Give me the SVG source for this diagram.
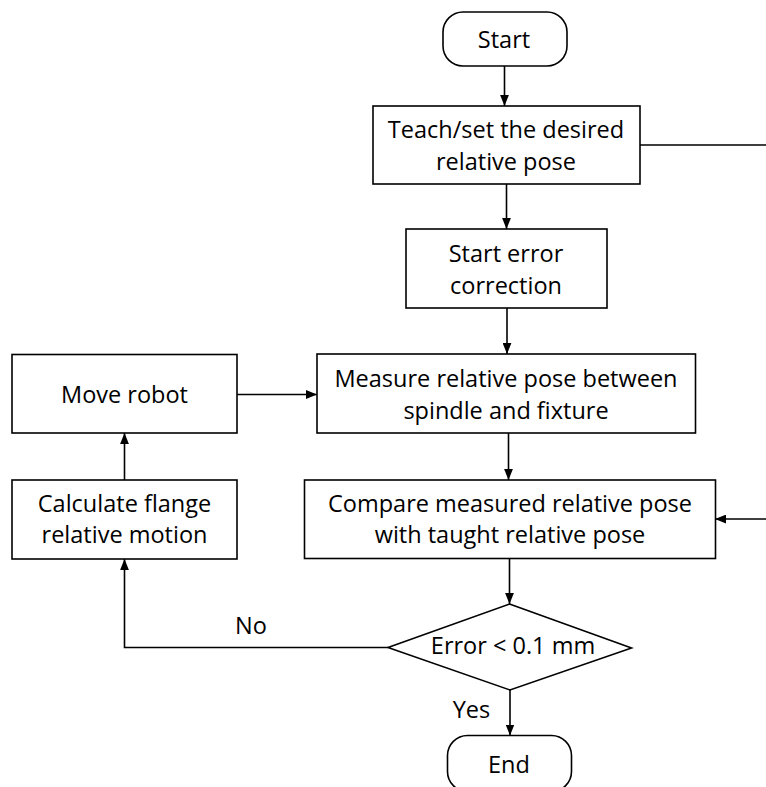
<svg xmlns="http://www.w3.org/2000/svg" width="766" height="787" viewBox="0 0 766 787">
  <defs>
    <marker id="arrow" viewBox="0 0 10 8" refX="10" refY="4" markerWidth="11" markerHeight="9" markerUnits="userSpaceOnUse" orient="auto">
      <path d="M0,0 L10,4 L0,8 Z" fill="#000"/>
    </marker>
    <style>
      .box { fill: #fff; stroke: #000; stroke-width: 1.6; }
      .edge { fill: none; stroke: #000; stroke-width: 1.6; marker-end: url(#arrow); }
      text { font-family: "Open Sans", "Liberation Sans", sans-serif; font-size: 23.5px; fill: #000; text-anchor: middle; }
    </style>
  </defs>
  <rect width="766" height="787" fill="#fff"/>

  <g id="connectors">
    <path class="edge" d="M504.5,66 V106"/>
    <path class="edge" d="M506.5,184 V229"/>
    <path class="edge" d="M507,308 V354"/>
    <path class="edge" d="M237,394.5 H317"/>
    <path class="edge" d="M508.5,433 V480"/>
    <path class="edge" d="M640,145 H768 V519 H715"/>
    <path class="edge" d="M509.5,558 V604"/>
    <path class="edge" d="M124.5,480 V433"/>
    <path class="edge" d="M388,647.5 H124.5 V559"/>
    <path class="edge" d="M510,690 V735.5"/>
    <text x="251" y="634">No</text>
    <text x="471.5" y="718">Yes</text>
  </g>

  <g id="start">
    <rect class="box" x="443" y="12" width="124" height="54" rx="20"/>
    <text x="504" y="48">Start</text>
  </g>

  <g id="teach">
    <rect class="box" x="373" y="106" width="267" height="78"/>
    <text x="506" y="138">Teach/set the desired</text>
    <text x="506" y="170">relative pose</text>
  </g>

  <g id="start-correction">
    <rect class="box" x="406" y="229" width="201" height="79"/>
    <text x="506" y="262">Start error</text>
    <text x="506" y="294">correction</text>
  </g>

  <g id="measure">
    <rect class="box" x="317" y="354" width="378.5" height="79"/>
    <text x="506" y="387">Measure relative pose between</text>
    <text x="506" y="419">spindle and fixture</text>
  </g>

  <g id="move-robot">
    <rect class="box" x="12" y="354.5" width="225" height="78.5"/>
    <text x="124.5" y="403">Move robot</text>
  </g>

  <g id="calculate">
    <rect class="box" x="12" y="480" width="225" height="79"/>
    <text x="124.5" y="512">Calculate flange</text>
    <text x="124.5" y="543">relative motion</text>
  </g>

  <g id="compare">
    <rect class="box" x="304.5" y="480" width="411" height="78.5"/>
    <text x="510" y="512">Compare measured relative pose</text>
    <text x="510" y="543">with taught relative pose</text>
  </g>

  <g id="decision">
    <polygon class="box" points="509.5,604 631.5,648 510,690 388,647.5"/>
    <text x="513" y="654">Error &lt; 0.1 mm</text>
  </g>

  <g id="end">
    <rect class="box" x="447.5" y="735.5" width="124" height="56" rx="20"/>
    <text x="509" y="773">End</text>
  </g>
</svg>
